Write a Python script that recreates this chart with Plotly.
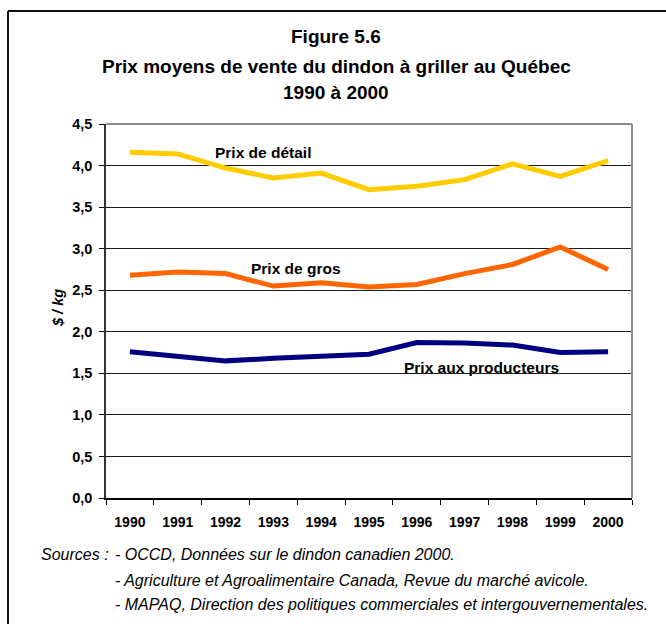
import plotly.graph_objects as go

years = ["1990", "1991", "1992", "1993", "1994", "1995", "1996", "1997", "1998", "1999", "2000"]
prix_detail = [4.16, 4.14, 3.97, 3.85, 3.91, 3.71, 3.75, 3.83, 4.02, 3.87, 4.06]
prix_gros = [2.68, 2.72, 2.70, 2.55, 2.59, 2.54, 2.57, 2.70, 2.81, 3.02, 2.75]
prix_producteurs = [1.76, 1.70, 1.65, 1.68, 1.71, 1.73, 1.87, 1.865, 1.84, 1.75, 1.76]
y_ticks = [0, 0.5, 1.0, 1.5, 2.0, 2.5, 3.0, 3.5, 4.0, 4.5]
y_tick_labels = ["0,0", "0,5", "1,0", "1,5", "2,0", "2,5", "3,0", "3,5", "4,0", "4,5"]

W, H = 666, 624
L, R, T, B = 106, 632, 124, 498


def px(x):
    return (x - L) / (R - L)


def py(y):
    return (B - y) / (B - T)


FONT = "Liberation Sans, Arial, sans-serif"

fig = go.Figure()
fig.add_trace(go.Scatter(x=years, y=prix_detail, mode="lines",
                         line=dict(color="#FFCC00", width=5), name="Prix de détail"))
fig.add_trace(go.Scatter(x=years, y=prix_gros, mode="lines",
                         line=dict(color="#FF6600", width=5), name="Prix de gros"))
fig.add_trace(go.Scatter(x=years, y=prix_producteurs, mode="lines",
                         line=dict(color="#000080", width=5), name="Prix aux producteurs"))

fig.update_layout(
    width=W, height=H,
    margin=dict(l=L, r=W - R, t=T, b=H - B, pad=0),
    paper_bgcolor="white", plot_bgcolor="white",
    showlegend=False,
    font=dict(family=FONT, color="black"),
    xaxis=dict(
        type="category", range=[-0.5, 10.5], tickson="boundaries", ticks="outside", ticklen=5,
        tickcolor="black", showgrid=False, showline=True, linecolor="black",
        linewidth=1.5, tickfont=dict(size=14, family=FONT, color="black", weight="bold"),
        mirror=False, zeroline=False, ticklabelstandoff=10,
    ),
    yaxis=dict(
        range=[0, 4.5], tickvals=y_ticks, ticktext=y_tick_labels,
        ticks="outside", ticklen=5, tickcolor="black",
        showgrid=True, gridcolor="#1a1a1a", gridwidth=1,
        showline=True, linecolor="#333333", linewidth=1.5,
        tickfont=dict(size=14.5, family=FONT, color="black", weight="bold"),
        zeroline=False, ticklabelstandoff=4,
    ),
)

shapes = [
    dict(type="line", xref="paper", yref="paper", x0=1, x1=1, y0=0, y1=1,
         line=dict(color="#8c8c8c", width=2)),
    dict(type="line", xref="paper", yref="paper", x0=0, x1=1, y0=1, y1=1,
         line=dict(color="#8c8c8c", width=2)),
    dict(type="line", xref="paper", yref="paper", x0=px(8), x1=px(8), y0=py(11), y1=py(630),
         line=dict(color="#111111", width=2)),
    dict(type="line", xref="paper", yref="paper", x0=px(8), x1=px(672), y0=py(11), y1=py(11),
         line=dict(color="#111111", width=2)),
]
fig.update_layout(shapes=shapes)

ann = []
title_lines = [("Figure 5.6", 37), ("Prix moyens de vente du dindon à griller au Québec", 66), ("1990 à 2000", 93)]
for text, y in title_lines:
    ann.append(dict(text=f"<b>{text}</b>", xref="paper", yref="paper", x=px(336), y=py(y),
                    showarrow=False, xanchor="center", yanchor="middle",
                    font=dict(size=19, family=FONT, color="black")))

labels = [("Prix de détail", 263, 152), ("Prix de gros", 296, 268), ("Prix aux producteurs", 481, 367)]
for text, x, y in labels:
    ann.append(dict(text=f"<b>{text}</b>", xref="paper", yref="paper", x=px(x), y=py(y),
                    showarrow=False, xanchor="center", yanchor="middle",
                    font=dict(size=15.5, family=FONT, color="black")))

ann.append(dict(text="<b><i>$ / kg</i></b>", xref="paper", yref="paper", x=px(58), y=py(308),
                showarrow=False, textangle=-90, xanchor="center", yanchor="middle",
                font=dict(size=14.5, family=FONT, color="black")))

sources = [("<i>Sources :</i>", 39, 554),
           ("<i>- OCCD, Données sur le dindon canadien 2000.</i>", 113, 554),
           ("<i>- Agriculture et Agroalimentaire Canada, Revue du marché avicole.</i>", 113, 580),
           ("<i>- MAPAQ, Direction des politiques commerciales et intergouvernementales.</i>", 113, 604)]
for text, x, y in sources:
    ann.append(dict(text=text, xref="paper", yref="paper", x=px(x), y=py(y),
                    showarrow=False, xanchor="left", yanchor="middle",
                    font=dict(size=16, family=FONT, color="black")))

fig.update_layout(annotations=ann)
fig.write_html("out.html", config={"displayModeBar": False},
               post_script="document.body.style.margin='0';")
